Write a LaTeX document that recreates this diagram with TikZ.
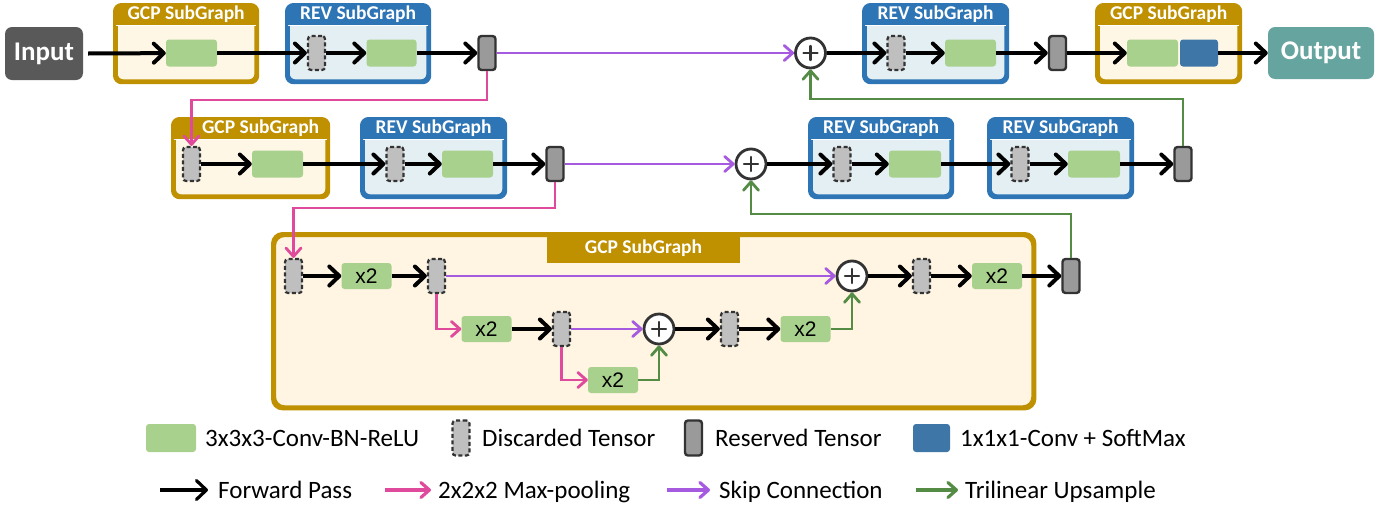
\documentclass[tikz,border=0pt]{standalone}
\usepackage{fontspec}
\setmainfont{Carlito}
\newfontfamily\arialf{Liberation Sans}
\usetikzlibrary{arrows.meta,calc}

\definecolor{gcp}{HTML}{BF9000}
\definecolor{gcpbody}{HTML}{FFF7E6}
\definecolor{gcpbig}{HTML}{FFF5E2}
\definecolor{rev}{HTML}{2E75B6}
\definecolor{revbody}{HTML}{E4EFF3}
\definecolor{convg}{HTML}{A9D18E}
\definecolor{smax}{HTML}{3F76A8}
\definecolor{discf}{HTML}{BFBFBF}
\definecolor{resf}{HTML}{9A9A9A}
\definecolor{edgec}{HTML}{333333}
\definecolor{inbox}{HTML}{595959}
\definecolor{outbox}{HTML}{66A59F}
\definecolor{poolc}{HTML}{E04A9C}
\definecolor{skipc}{HTML}{A55AE0}
\definecolor{upc}{HTML}{548C45}

\tikzset{
  sgframe/.style={draw=#1, line width=3.2pt, rounded corners=7pt, inner sep=0pt},
  sgtitle/.style={text=white, font=\bfseries\fontsize{19.5}{19.5}\selectfont, inner sep=0pt},
  conv/.style={fill=convg, rounded corners=3pt, minimum width=50pt, minimum height=26pt, inner sep=0pt, font=\arialf\fontsize{21}{21}\selectfont},
  smaxbox/.style={fill=smax, rounded corners=3pt, minimum width=38pt, minimum height=26pt, inner sep=0pt},
  disc/.style={draw=edgec, dash pattern=on 4pt off 2.5pt, line width=2.2pt, fill=discf, rounded corners=3pt, minimum width=17pt, minimum height=34pt, inner sep=0pt},
  res/.style={draw=edgec, line width=2.4pt, fill=resf, rounded corners=3pt, minimum width=17pt, minimum height=34pt, inner sep=0pt},
  addop/.style={circle, draw=edgec, line width=2.8pt, fill=white, minimum size=30pt, inner sep=0pt,
    path picture={
      \draw[edgec, line width=2.4pt, line cap=round] ([xshift=-7pt]path picture bounding box.center) -- ([xshift=7pt]path picture bounding box.center);
      \draw[edgec, line width=2.4pt, line cap=round] ([yshift=-7pt]path picture bounding box.center) -- ([yshift=7pt]path picture bounding box.center);}},
  fwdarrow/.style={draw=black, line width=4pt, -{Straight Barb[length=10pt,width=19pt,round]}},
  poolarrow/.style={draw=poolc, line width=2.8pt, -{Straight Barb[length=8.5pt,width=15pt,round]}},
  skiparrow/.style={draw=skipc, line width=2.8pt, -{Straight Barb[length=8.5pt,width=15pt,round]}},
  uparrow/.style={draw=upc, line width=2.8pt, -{Straight Barb[length=8.5pt,width=15pt,round]}},
  legtext/.style={anchor=base west, inner sep=0pt, font=\fontsize{25}{25}\selectfont},
  termbox/.style={rounded corners=7pt, text=white, font=\bfseries\fontsize{27}{27}\selectfont, inner sep=0pt}
}

% #1 name, #2 frame colour, #3 body colour, #4 x, #5 y, #6 w, #7 h, #8 title, #9 title xshift
\newcommand\sgbox[9]{%
  \node[sgframe=#2, fill=#3, minimum width={#6pt-3.2pt}, minimum height={#7pt-3.2pt}, anchor=north west] (#1) at ({#4+1.6},{#5+1.6}) {};
  \begin{scope}
    \clip[rounded corners=7pt] (#1.south west) rectangle (#1.north east);
    \fill[#2] (#1.north west) rectangle ([yshift=-20.4pt]#1.north east);
    \draw[white, line width=0.8pt] ([yshift=-20.4pt]#1.north west) -- ([yshift=-20.4pt]#1.north east);
  \end{scope}
  \draw[#2, line width=3.2pt, rounded corners=7pt] (#1.south west) rectangle (#1.north east);
  \node[sgtitle, anchor=base] (#1t) at ([xshift=#9pt, yshift=-15pt]#1.north) {#8};
}

\begin{document}
\begin{tikzpicture}[x=1pt,y=-1pt]
\useasboundingbox (0,0) rectangle (1392,509);

% ---------- sub-graph frames ----------
\sgbox{G1}{gcp}{gcpbody}{113}{3}{143}{78}{GCP SubGraph}{0}
\sgbox{R1}{rev}{revbody}{285}{3}{143}{78}{REV SubGraph}{0}
\sgbox{R4}{rev}{revbody}{862}{3}{144}{78}{REV SubGraph}{0}
\sgbox{G4}{gcp}{gcpbody}{1095}{3}{144}{78}{GCP SubGraph}{0}
\sgbox{G2}{gcp}{gcpbody}{171}{117}{156}{79}{GCP SubGraph}{10}
\sgbox{R2}{rev}{revbody}{360}{117}{144}{79}{REV SubGraph}{0}
\sgbox{R3}{rev}{revbody}{808}{117}{143}{79}{REV SubGraph}{0}
\sgbox{R5}{rev}{revbody}{987}{117}{144}{79}{REV SubGraph}{0}

% big GCP frame
\node[draw=gcp, fill=gcpbig, line width=3.4pt, rounded corners=10pt, minimum width=758.6pt, minimum height=171.6pt, inner sep=0pt, anchor=north west] (big) at (272.7,233.7) {};
\fill[gcp] (547,233.7) rectangle (740,263);
\draw[gcp, line width=3.4pt, rounded corners=10pt] (big.south west) rectangle (big.north east);
\node[sgtitle, anchor=base] (bigt) at (643.5,253) {GCP SubGraph};

% ---------- row 1 ----------
\node[termbox, fill=inbox, minimum width=78pt, minimum height=53pt] (in) at (44,53.5) {Input};
\node[conv, minimum width=51pt, minimum height=27pt] (g1c) at (191.5,53) {};
\node[disc] (r1d) at (316.5,53) {};
\node[conv, minimum height=27pt] (r1c) at (391.5,53) {};
\node[res] (t1) at (487,53) {};
\node[addop] (p1) at (810.5,53) {};
\node[disc] (r4d) at (896,53) {};
\node[conv, minimum width=51pt, minimum height=27pt] (r4c) at (970.5,53) {};
\node[res] (t4) at (1057.5,53) {};
\node[conv, minimum width=51pt, minimum height=27pt] (g4c) at (1152.5,53) {};
\node[smaxbox, minimum height=27pt] (g4s) at (1199,53) {};
\node[termbox, fill=outbox, minimum width=106pt, minimum height=52pt] (out) at (1321,53) {Output};

% ---------- row 2 ----------
\node[disc] (g2d) at (191.5,164) {};
\node[conv, minimum width=51pt, minimum height=27pt] (g2c) at (277.5,164) {};
\node[disc] (r2d) at (395,164) {};
\node[conv, minimum width=51pt, minimum height=27pt] (r2c) at (467.5,164) {};
\node[res] (t2) at (555,164) {};
\node[addop] (p2) at (751,164) {};
\node[disc] (r3d) at (842,164) {};
\node[conv, minimum width=52pt, minimum height=27pt] (r3c) at (915,164) {};
\node[disc] (r5d) at (1020,164) {};
\node[conv, minimum width=52pt, minimum height=27pt] (r5c) at (1094,164) {};
\node[res] (t3) at (1183,164) {};

% ---------- row 3 ----------
\node[disc] (b1) at (293.5,276) {};
\node[conv] (x2a) at (366.5,276) {x2};
\node[disc] (b2) at (436.5,276) {};
\node[addop] (p3) at (852,276) {};
\node[disc] (b5) at (921.5,276) {};
\node[conv] (x2e) at (997,276) {x2};
\node[res] (t5) at (1071,276) {};
\node[conv] (x2b) at (486.5,329) {x2};
\node[disc] (b3) at (561.5,329) {};
\node[addop] (p4) at (659,329) {};
\node[disc] (b4) at (729.5,329) {};
\node[conv] (x2d) at (805.5,329) {x2};
\node[conv] (x2c) at (613,380) {x2};

% ---------- helper coordinates ----------
\coordinate (k1) at (0,100);
\coordinate (k2) at (0,99);
\coordinate (k3) at (0,208);
\coordinate (k4) at (0,214);

% ---------- forward pass ----------
\draw[fwdarrow] ([xshift=5pt]in.east) -- (g1c);
\draw[fwdarrow] (g1c) -- (r1d);
\draw[fwdarrow] (r1d) -- (r1c);
\draw[fwdarrow] (r1c) -- (t1);
\draw[fwdarrow] (p1) -- (r4d);
\draw[fwdarrow] (r4d) -- (r4c);
\draw[fwdarrow] (r4c) -- (t4);
\draw[fwdarrow] (t4) -- (g4c);
\draw[fwdarrow] (g4s) -- (out);

\draw[fwdarrow] (g2d) -- (g2c);
\draw[fwdarrow] (g2c) -- (r2d);
\draw[fwdarrow] (r2d) -- (r2c);
\draw[fwdarrow] (r2c) -- (t2);
\draw[fwdarrow] (p2) -- (r3d);
\draw[fwdarrow] (r3d) -- (r3c);
\draw[fwdarrow] (r3c) -- (r5d);
\draw[fwdarrow] (r5d) -- (r5c);
\draw[fwdarrow] (r5c) -- (t3);

\draw[fwdarrow] (b1) -- (x2a);
\draw[fwdarrow] (x2a) -- (b2);
\draw[fwdarrow] (x2b) -- (b3);
\draw[fwdarrow] (p4) -- (b4);
\draw[fwdarrow] (b4) -- (x2d);
\draw[fwdarrow] (p3) -- (b5);
\draw[fwdarrow] (b5) -- (x2e);
\draw[fwdarrow] (x2e) -- (t5);

% ---------- skip connections ----------
\draw[skiparrow] (t1) -- (p1);
\draw[skiparrow] (t2) -- (p2);
\draw[skiparrow] (b2) -- (p3);
\draw[skiparrow] (b3) -- (p4);

% ---------- max pooling ----------
\draw[poolarrow] (t1.south) -- (t1.south |- k1) -| (g2d.north);
\draw[poolarrow] (t2.south) -- (t2.south |- k3) -| (b1.north);
\draw[poolarrow] (b2.south) |- (x2b.west);
\draw[poolarrow] (b3.south) |- (x2c.west);

% ---------- upsampling ----------
\draw[uparrow] (x2c.east) -| (p4.south);
\draw[uparrow] (x2d.east) -| (p3.south);
\draw[uparrow] (t5.north) -- (t5.north |- k4) -| (p2.south);
\draw[uparrow] (t3.north) -- (t3.north |- k2) -| (p1.south);

% ---------- legend ----------
\node[conv, minimum width=50pt, minimum height=28pt] (l1) at (171,438) {};
\node[legtext] (l1t) at (205,446) {3x3x3-Conv-BN-ReLU};
\node[disc, minimum height=35pt] (l2) at (461,438) {};
\node[legtext] (l2t) at (482,446) {Discarded Tensor};
\node[res, minimum height=35pt] (l3) at (693.5,438) {};
\node[legtext] (l3t) at (715,446) {Reserved Tensor};
\node[smaxbox, minimum width=37pt, minimum height=28pt] (l4) at (931.5,438) {};
\node[legtext] (l4t) at (960,446) {1x1x1-Conv + SoftMax};

\coordinate (a1s) at (160,490); \coordinate (a1e) at (208,490);
\draw[fwdarrow, line width=3.2pt] (a1s) -- (a1e);
\node[legtext] (a1t) at (218,498) {Forward Pass};
\coordinate (a2s) at (385,490); \coordinate (a2e) at (431,490);
\draw[poolarrow, line width=3.2pt] (a2s) -- (a2e);
\node[legtext] (a2t) at (438,498) {2x2x2 Max-pooling};
\coordinate (a3s) at (667,490); \coordinate (a3e) at (710,490);
\draw[skiparrow, line width=3.2pt] (a3s) -- (a3e);
\node[legtext] (a3t) at (719,498) {Skip Connection};
\coordinate (a4s) at (916,490); \coordinate (a4e) at (958,490);
\draw[uparrow, line width=3.2pt] (a4s) -- (a4e);
\node[legtext] (a4t) at (965,498) {Trilinear Upsample};
\end{tikzpicture}
\end{document}
